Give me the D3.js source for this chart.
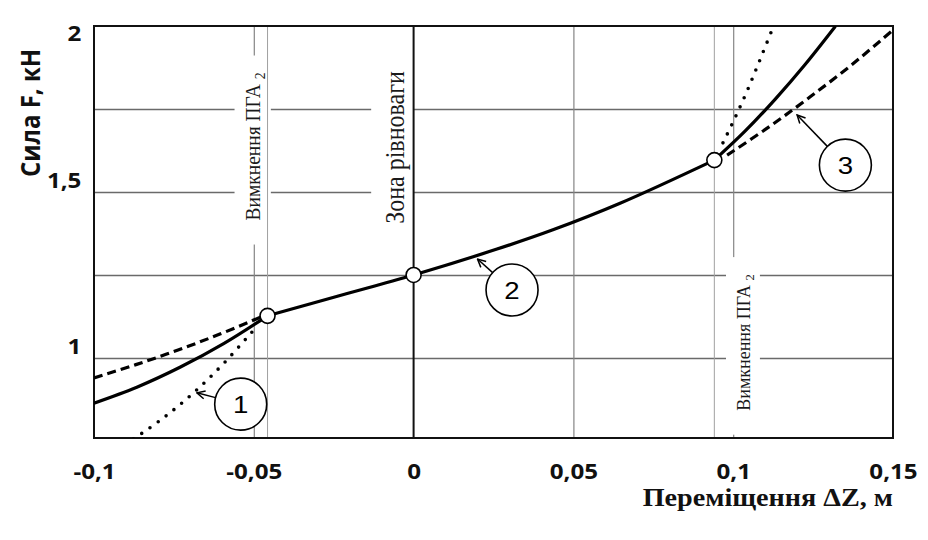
<!DOCTYPE html>
<html>
<head>
<meta charset="utf-8">
<script src="https://cdn.jsdelivr.net/npm/d3@7"></script>
<style>
  body { margin: 0; background: #fff; }
  svg { display: block; }
</style>
</head>
<body>
<div id="chart"></div>
<script>
// values: displacement dZ (m) -> force F (kN)

// main characteristic (solid), in three pieces split at the switching points
const solidLeftZ = [-0.1, -0.0866, -0.0731, -0.0593, -0.0457];
const solidLeftF = [0.864, 0.912, 0.972, 1.044, 1.127];
const solidMidZ = [-0.0457, -0.023, 0, 0.0261, 0.0436, 0.0646, 0.0941];
const solidMidF = [1.127, 1.188, 1.25, 1.328, 1.386, 1.466, 1.596];
const solidRightZ = [0.0941, 0.1037, 0.1131, 0.1225, 0.1318];
const solidRightF = [1.596, 1.683, 1.779, 1.884, 1.997];

// dashed branches
const dashLeftZ = [-0.1, -0.0869, -0.0737, -0.0606, -0.0474];
const dashLeftF = [0.940, 0.980, 1.024, 1.072, 1.125];
const dashRightZ = [0.0981, 0.1112, 0.124, 0.1372, 0.15];
const dashRightF = [1.611, 1.696, 1.786, 1.884, 1.988];

// dotted branches
const dotLeftZ = [-0.0903, -0.0872, -0.0778, -0.0684, -0.059, -0.0496];
const dotLeftF = [0.740, 0.759, 0.823, 0.899, 0.988, 1.089];
const dotRightZ = [0.0968, 0.1007, 0.1046, 0.1085, 0.1125, 0.1141];
const dotRightF = [1.648, 1.726, 1.810, 1.901, 1.997, 2.037];

// switching points
const switchZ = [-0.0457, 0.0941];
const markerZ = [-0.0457, 0, 0.0941];
const markerF = [1.127, 1.25, 1.596];

// numbered callouts and where their arrows point
const calloutNum = ["1", "2", "3"];
const calloutZ = [-0.0541, 0.0308, 0.1351];
const calloutF = [0.861, 1.205, 1.581];
const tipZ = [-0.0678, 0.0200, 0.1200];
const tipF = [0.895, 1.298, 1.732];

// vertical notes
const noteText = ["Вимкнення ПГА", "Зона рівноваги", "Вимкнення ПГА"];
const noteSub = ["2", "", "2"];
const noteZ = [-0.0502, -0.0061, 0.1031];
const noteF = [1.637, 1.634, 1.047];

// axes
const xTicks = [-0.1, -0.05, 0, 0.05, 0.1, 0.15];
const xGridTicks = [-0.05, 0.05, 0.1];
const yTicks = [1, 1.5, 2];
const yGridTicks = [1, 1.25, 1.5, 1.75];

const W = 928, H = 540;
const margin = {top: 26, right: 35, bottom: 102, left: 94};
const width = W - margin.left - margin.right;
const height = H - margin.top - margin.bottom;
const stretch = 1.15;

const locale = d3.formatLocale({decimal: ",", thousands: "\u00a0", grouping: [3], currency: ["", ""], minus: "-"});
const fmt = locale.format("");

const svg = d3.select("#chart").append("svg")
    .attr("width", W)
    .attr("height", H);

const g = svg.append("g")
    .attr("transform", `translate(${margin.left},${margin.top})`);

const x = d3.scaleLinear().domain([-0.1, 0.15]).range([0, width]);
const y = d3.scaleLinear().domain([0.759, 2]).range([height, 0]);

g.append("clipPath").attr("id", "plot-clip")
    .append("rect").attr("width", width).attr("height", height);

// grid
g.append("g")
    .attr("class", "grid-y")
    .call(d3.axisLeft(y).tickValues(yGridTicks).tickSize(-width).tickFormat(""))
    .call(a => a.select(".domain").remove())
    .selectAll("line").attr("stroke", "#6a6a6a").attr("stroke-width", 1.4);

g.append("g")
    .attr("class", "grid-x")
    .attr("transform", `translate(0,${height})`)
    .call(d3.axisBottom(x).tickValues(xGridTicks).tickSize(-height).tickFormat(""))
    .call(a => a.select(".domain").remove())
    .selectAll("line").attr("stroke", "#858585").attr("stroke-width", 1.2);

// vertical notes: white box behind the text breaks the grid
const notes = g.append("g").attr("class", "notes");
noteText.forEach((t, i) => {
    const ng = notes.append("g")
        .attr("transform", `translate(${x(noteZ[i])},${y(noteF[i])}) scale(${i === 1 ? stretch : 1.05},1) rotate(-90)`);
    const box = ng.append("rect").attr("fill", "#fff");
    const txt = ng.append("text")
        .attr("text-anchor", "middle")
        .attr("dy", "0.35em")
        .style("font-family", "'Liberation Serif', 'Times New Roman', serif")
        .style("font-size", i === 1 ? "24px" : (i === 0 ? "19.5px" : "18px"))
        .attr("fill", "#1a1a1a")
        .text(t);
    if (noteSub[i]) {
        txt.append("tspan").text(" ");
        txt.append("tspan")
            .attr("dy", "0.3em")
            .style("font-size", "0.7em")
            .text(noteSub[i]);
    }
    const bb = txt.node().getBBox();
    // local x runs up the page, local y runs to the right
    box.attr("x", bb.x - 24)
        .attr("y", bb.y - 7)
        .attr("width", bb.width + 24 + 17)
        .attr("height", bb.height + 10);
});

// switching lines and equilibrium line
g.append("g")
    .selectAll("line")
    .data(switchZ)
    .join("line")
    .attr("x1", d => x(d)).attr("x2", d => x(d))
    .attr("y1", 0).attr("y2", height)
    .attr("stroke", "#a0a0a0")
    .attr("stroke-width", 1);

g.append("line")
    .attr("x1", x(0)).attr("x2", x(0))
    .attr("y1", 0).attr("y2", height)
    .attr("stroke", "#111")
    .attr("stroke-width", 2);

// frame
g.append("rect")
    .attr("width", width).attr("height", height)
    .attr("fill", "none")
    .attr("stroke", "#111")
    .attr("stroke-width", 2);

// curves
const line = d3.line()
    .x(d => x(d[0]))
    .y(d => y(d[1]))
    .curve(d3.curveCatmullRom.alpha(0.5));

const curves = g.append("g").attr("clip-path", "url(#plot-clip)");

function addCurve(zs, fs, dash, widthPx, cap) {
    curves.append("path")
        .datum(d3.zip(zs, fs))
        .attr("d", line)
        .attr("fill", "none")
        .attr("stroke", "#000")
        .attr("stroke-width", widthPx)
        .attr("stroke-linecap", cap)
        .attr("stroke-linejoin", "round")
        .attr("stroke-dasharray", dash);
}

addCurve(dotLeftZ, dotLeftF, "0,10", 3.6, "round");
addCurve(dotRightZ, dotRightF, "0,10", 3.6, "round");
addCurve(dashLeftZ, dashLeftF, "9,5", 3.2, "butt");
addCurve(dashRightZ, dashRightF, "9,5", 3.2, "butt");
addCurve(solidLeftZ, solidLeftF, null, 3.2, "round");
addCurve(solidMidZ, solidMidF, null, 3.2, "round");
addCurve(solidRightZ, solidRightF, null, 3.2, "round");

// switching markers
g.append("g")
    .selectAll("circle")
    .data(d3.zip(markerZ, markerF))
    .join("circle")
    .attr("cx", d => x(d[0]))
    .attr("cy", d => y(d[1]))
    .attr("r", 7.5)
    .attr("fill", "#fff")
    .attr("stroke", "#000")
    .attr("stroke-width", 1.6);

// callouts
svg.append("defs").append("marker")
    .attr("id", "arrow")
    .attr("viewBox", "0 0 10 10")
    .attr("refX", 9).attr("refY", 5)
    .attr("markerWidth", 10).attr("markerHeight", 10)
    .attr("markerUnits", "userSpaceOnUse")
    .attr("orient", "auto")
    .append("path")
    .attr("d", "M1,1 L9,5 L1,9")
    .attr("fill", "none")
    .attr("stroke", "#000")
    .attr("stroke-width", 1.5);

const r = 26;
const callouts = g.append("g").attr("class", "callouts");
calloutNum.forEach((n, i) => {
    const cx = x(calloutZ[i]), cy = y(calloutF[i]);
    const tx = x(tipZ[i]), ty = y(tipF[i]);
    const d = Math.hypot(tx - cx, ty - cy);
    callouts.append("line")
        .attr("x1", cx + (tx - cx) * r / d)
        .attr("y1", cy + (ty - cy) * r / d)
        .attr("x2", tx).attr("y2", ty)
        .attr("stroke", "#000")
        .attr("stroke-width", 1.5)
        .attr("marker-end", "url(#arrow)");
    callouts.append("circle")
        .attr("cx", cx).attr("cy", cy).attr("r", r)
        .attr("fill", "#fff")
        .attr("stroke", "#000")
        .attr("stroke-width", 1.6);
    callouts.append("text")
        .attr("transform", `translate(${cx},${cy}) scale(${stretch},1)`)
        .attr("text-anchor", "middle")
        .attr("dy", "0.36em")
        .style("font-family", "'Liberation Sans', Arial, sans-serif")
        .style("font-size", "24px")
        .text(n);
});

// tick labels
g.append("g")
    .attr("class", "x-axis")
    .attr("transform", `translate(0,${height})`)
    .call(d3.axisBottom(x).tickValues(xTicks).tickSize(0).tickPadding(26).tickFormat(fmt))
    .call(a => a.select(".domain").remove())
    .selectAll("text")
    .attr("transform", `scale(${stretch},1)`)
    .attr("fill", "#111")
    .style("font-family", "'Open Sans', sans-serif")
    .style("font-weight", "bold")
    .style("font-size", "21px");

g.append("g")
    .attr("class", "y-axis")
    .call(d3.axisLeft(y).tickValues(yTicks).tickSize(0).tickPadding(11).tickFormat(fmt))
    .call(a => a.select(".domain").remove())
    .selectAll("text")
    .attr("dy", 0)
    .attr("y", d => Math.max(y(d) - 5, 14) - y(d))
    .attr("transform", `scale(${stretch},1)`)
    .attr("fill", "#111")
    .style("font-family", "'Open Sans', sans-serif")
    .style("font-weight", "bold")
    .style("font-size", "21px");

// axis titles
svg.append("text")
    .attr("transform", `translate(30,113) scale(${stretch},1) rotate(-90)`)
    .attr("text-anchor", "middle")
    .attr("dy", "0.35em")
    .attr("fill", "#111")
    .style("font-family", "'Open Sans', sans-serif")
    .style("font-weight", "bold")
    .style("font-size", "24px")
    .text("Сила F, кН");

svg.append("text")
    .attr("transform", `translate(${margin.left + width},506) scale(${stretch},1)`)
    .attr("text-anchor", "end")
    .attr("fill", "#111")
    .style("font-family", "'Liberation Serif', 'Times New Roman', serif")
    .style("font-weight", "bold")
    .style("font-size", "24.5px")
    .text("Переміщення ΔZ, м");
</script>
</body>
</html>
